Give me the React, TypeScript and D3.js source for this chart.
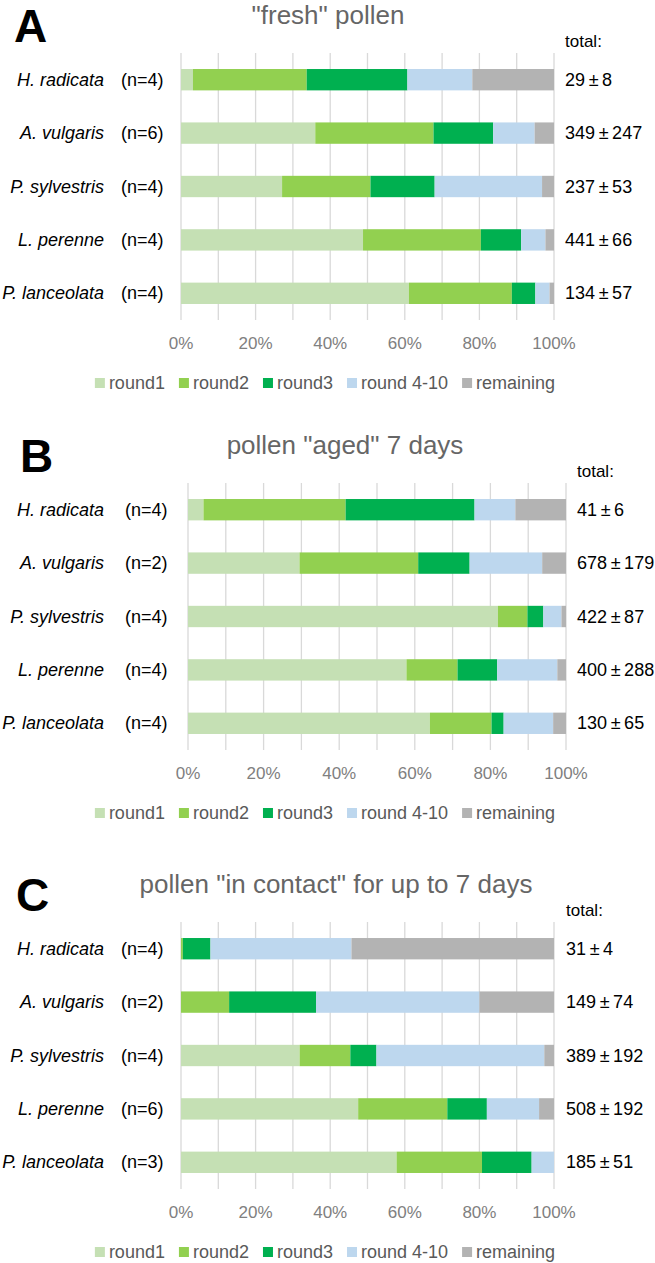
import * as d3 from "d3";
import React from "react";

// species shown in every panel, top to bottom
const species = ["H. radicata", "A. vulgaris", "P. sylvestris", "L. perenne", "P. lanceolata"];
const seriesKeys = ["round1", "round2", "round3", "round4", "remaining"];
const seriesLabels = ["round1", "round2", "round3", "round 4-10", "remaining"];
const seriesColors = ["#c5e0b4", "#92d050", "#00b050", "#bdd7ee", "#b3b3b3"];
const tickValues = [0, 0.1, 0.2, 0.3, 0.4, 0.5, 0.6, 0.7, 0.8, 0.9, 1];

// share of pollen removed per round (%), rows follow `species`
const freshN = [4, 6, 4, 4, 4];
const freshTotals = ["29 ± 8", "349 ± 247", "237 ± 53", "441 ± 66", "134 ± 57"];
const freshShares = [
  [3.2, 30.5, 27.0, 17.4, 21.9],
  [36.0, 31.7, 16.0, 11.1, 5.2],
  [27.1, 23.7, 17.2, 28.8, 3.2],
  [48.8, 31.6, 10.8, 6.5, 2.3],
  [61.1, 27.6, 6.3, 3.8, 1.2],
];

const agedN = [4, 2, 4, 4, 4];
const agedTotals = ["41 ± 6", "678 ± 179", "422 ± 87", "400 ± 288", "130 ± 65"];
const agedShares = [
  [4.1, 37.6, 34.1, 10.8, 13.4],
  [29.5, 31.4, 13.6, 19.2, 6.3],
  [82.0, 7.8, 4.2, 4.8, 1.2],
  [57.8, 13.5, 10.5, 15.9, 2.3],
  [64.0, 16.3, 3.2, 13.1, 3.4],
];

const contactN = [4, 2, 4, 6, 3];
const contactTotals = ["31 ± 4", "149 ± 74", "389 ± 192", "508 ± 192", "185 ± 51"];
const contactShares = [
  [0, 0.5, 7.4, 37.8, 54.3],
  [0, 12.9, 23.3, 43.8, 20.0],
  [31.8, 13.6, 7.0, 45.0, 2.6],
  [47.5, 23.9, 10.6, 14.0, 4.0],
  [57.8, 22.9, 13.3, 6.0, 0],
];

const FONT = "'Liberation Sans', Arial, sans-serif";

const panels = [
  { letter: "A", title: '"fresh" pollen', n: freshN, totals: freshTotals, shares: freshShares,
    top: 53, x0: 181, x1: 554, letterX: 14, titleX: 328, nX: 121, totalX: 565 },
  { letter: "B", title: 'pollen "aged" 7 days', n: agedN, totals: agedTotals, shares: agedShares,
    top: 483, x0: 188, x1: 566, letterX: 20, titleX: 345, nX: 125, totalX: 577 },
  { letter: "C", title: 'pollen "in contact" for up to 7 days', n: contactN, totals: contactTotals, shares: contactShares,
    top: 922, x0: 181, x1: 554, letterX: 16, titleX: 336, nX: 121, totalX: 566 },
];

const plotHeight = 267;

let measureCtx: CanvasRenderingContext2D | null = null;
function textWidth(s: string, size: number) {
  if (!measureCtx) measureCtx = document.createElement("canvas").getContext("2d");
  if (!measureCtx) return s.length * size * 0.55;
  measureCtx.font = `${size}px ${FONT}`;
  return measureCtx.measureText(s).width;
}

function Legend({ y, cx }: { y: number; cx: number }) {
  const sw = 10, gap = 4, itemGap = 14, size = 18;
  const widths = seriesLabels.map((l) => textWidth(l, size));
  const total = d3.sum(widths) + seriesLabels.length * (sw + gap) + (seriesLabels.length - 1) * itemGap;
  let x = cx - total / 2;
  const items = seriesLabels.map((l, i) => {
    const item = { label: l, color: seriesColors[i], x };
    x += sw + gap + widths[i] + itemGap;
    return item;
  });
  return (
    <g>
      {items.map((it) => (
        <g key={it.label}>
          <rect x={it.x} y={y - sw / 2} width={sw} height={sw} fill={it.color} />
          <text x={it.x + sw + gap} y={y + 6} fontSize={size} fill="#595959">{it.label}</text>
        </g>
      ))}
    </g>
  );
}

function Panel({ p }: { p: (typeof panels)[number] }) {
  const x = d3.scaleLinear().domain([0, 1]).range([p.x0, p.x1]);
  const y = d3.scaleBand().domain(species).range([p.top, p.top + plotHeight]).paddingInner(0.6).paddingOuter(0.3);
  const rows = species.map((s, i) => {
    const r: Record<string, number | string> = { species: s };
    seriesKeys.forEach((k, j) => (r[k] = p.shares[i][j] / 100));
    return r;
  });
  const stacked = d3.stack<Record<string, number | string>>().keys(seriesKeys)(rows as any);
  const bottom = p.top + plotHeight;
  const fmt = d3.format(".0%");

  return (
    <g>
      <text x={p.letterX} y={p.top - 11} fontSize={46} fontWeight="bold" fill="#000">{p.letter}</text>
      <text x={p.titleX} y={p.top - 29} fontSize={26} fill="#666" textAnchor="middle">{p.title}</text>
      <text x={p.totalX} y={p.top - 6} fontSize={17} fill="#000">total:</text>

      {tickValues.map((t) => (
        <line key={t} x1={x(t)} x2={x(t)} y1={p.top} y2={bottom} stroke="#d9d9d9" strokeWidth={1.3} />
      ))}

      {stacked.map((layer, j) => (
        <g key={layer.key} fill={seriesColors[j]}>
          {layer.map((d, i) => (
            <rect key={i} x={x(d[0])} y={y(species[i])} width={Math.max(0, x(d[1]) - x(d[0]))} height={y.bandwidth()} />
          ))}
        </g>
      ))}

      {species.map((s, i) => {
        const cy = (y(s) ?? 0) + y.bandwidth() / 2;
        return (
          <g key={s}>
            <text x={104} y={cy + 6} fontSize={18} fontStyle="italic" textAnchor="end" fill="#000">{s}</text>
            <text x={p.nX} y={cy + 6} fontSize={18} fill="#000">(n={p.n[i]})</text>
            <text x={p.totalX} y={cy + 6} fontSize={18} fill="#000">{p.totals[i].replace(/ /g, "\u2009")}</text>
          </g>
        );
      })}

      {tickValues.filter((_, i) => i % 2 === 0).map((t) => (
        <text key={t} x={x(t)} y={bottom + 29} fontSize={17} fill="#808080" textAnchor="middle">{fmt(t)}</text>
      ))}

      <Legend y={bottom + 63} cx={325} />
    </g>
  );
}

export default function App() {
  return (
    <svg
      width={655}
      height={1263}
      style={{ position: "absolute", left: 0, top: 0, background: "#fff" }}
      fontFamily={FONT}
    >
      <rect width={655} height={1263} fill="#fff" />
      {panels.map((p) => (
        <Panel key={p.letter} p={p} />
      ))}
    </svg>
  );
}
